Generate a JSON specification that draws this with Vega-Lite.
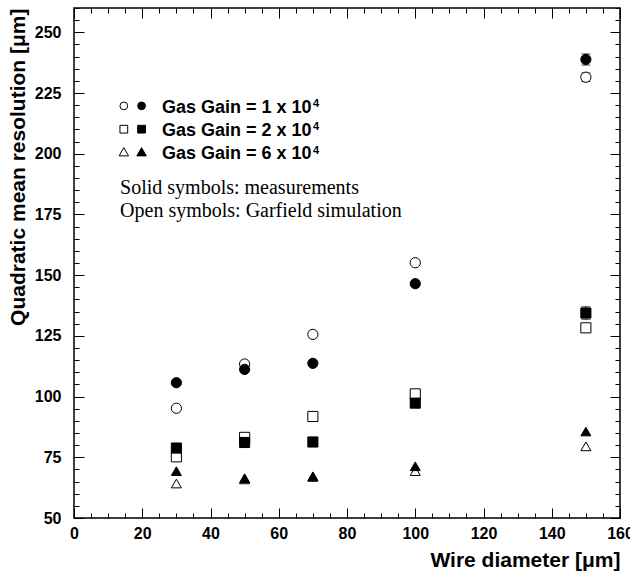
{
  "$schema": "https://vega.github.io/schema/vega-lite/v6.json",
  "width": 546,
  "height": 510,
  "autosize": {"type": "none"},
  "padding": {"left": 74, "top": 8, "right": 10, "bottom": 53},
  "background": "white",
  "config": {
    "view": {"stroke": "black", "strokeWidth": 1.5},
    "axis": {
      "domain": false, "grid": false, "tickColor": "black", "tickWidth": 1,
      "labelFont": "Liberation Sans", "labelFontWeight": "bold", "labelFontSize": 16, "labelColor": "black",
      "labelFlush": false, "labelOverlap": false, "labelBound": false,
      "titleFont": "Liberation Sans", "titleFontWeight": "bold", "titleFontSize": 21, "titleColor": "black"
    }
  },
  "datasets": {
    "one": [{}],
    "pts": [
      {"d": 30, "res": 95.2, "gain": "1e4", "type": "sim"},
      {"d": 50, "res": 113.4, "gain": "1e4", "type": "sim"},
      {"d": 70, "res": 125.6, "gain": "1e4", "type": "sim"},
      {"d": 100, "res": 155.1, "gain": "1e4", "type": "sim"},
      {"d": 150, "res": 231.5, "gain": "1e4", "type": "sim"},
      {"d": 30, "res": 75.2, "gain": "2e4", "type": "sim"},
      {"d": 50, "res": 83.2, "gain": "2e4", "type": "sim"},
      {"d": 70, "res": 91.8, "gain": "2e4", "type": "sim"},
      {"d": 100, "res": 101.1, "gain": "2e4", "type": "sim"},
      {"d": 150, "res": 128.3, "gain": "2e4", "type": "sim"},
      {"d": 30, "res": 64.2, "gain": "6e4", "type": "sim"},
      {"d": 50, "res": 65.9, "gain": "6e4", "type": "sim"},
      {"d": 70, "res": 66.9, "gain": "6e4", "type": "sim"},
      {"d": 100, "res": 69.3, "gain": "6e4", "type": "sim"},
      {"d": 150, "res": 79.5, "gain": "6e4", "type": "sim"},
      {"d": 30, "res": 105.7, "gain": "1e4", "type": "meas"},
      {"d": 50, "res": 111.2, "gain": "1e4", "type": "meas"},
      {"d": 70, "res": 113.7, "gain": "1e4", "type": "meas"},
      {"d": 100, "res": 146.5, "gain": "1e4", "type": "meas"},
      {"d": 150, "res": 238.8, "gain": "1e4", "type": "meas"},
      {"d": 30, "res": 78.8, "gain": "2e4", "type": "meas"},
      {"d": 50, "res": 81.1, "gain": "2e4", "type": "meas"},
      {"d": 70, "res": 81.3, "gain": "2e4", "type": "meas"},
      {"d": 100, "res": 97.3, "gain": "2e4", "type": "meas"},
      {"d": 150, "res": 134.4, "gain": "2e4", "type": "meas"},
      {"d": 30, "res": 69.3, "gain": "6e4", "type": "meas"},
      {"d": 50, "res": 66.4, "gain": "6e4", "type": "meas"},
      {"d": 70, "res": 67.2, "gain": "6e4", "type": "meas"},
      {"d": 100, "res": 71.3, "gain": "6e4", "type": "meas"},
      {"d": 150, "res": 85.6, "gain": "6e4", "type": "meas"}
    ],
    "err": [
      {"d": 150, "lo": 236.5, "hi": 241.1, "gain": "1e4", "type": "meas"},
      {"d": 150, "lo": 229.7, "hi": 233.3, "gain": "1e4", "type": "sim"},
      {"d": 150, "lo": 131.8, "hi": 137.0, "gain": "2e4", "type": "meas"},
      {"d": 150, "lo": 126.5, "hi": 130.1, "gain": "2e4", "type": "sim"}
    ]
  },
  "layer": [
    {
      "data": {"name": "err"},
      "mark": {"type": "rule", "color": "black", "strokeWidth": 1},
      "encoding": {
        "x": {"field": "d", "type": "quantitative", "axis": null, "scale": {"domain": [0, 160], "nice": false, "zero": false}},
        "y": {"field": "lo", "type": "quantitative", "axis": null, "scale": {"domain": [50, 260], "nice": false, "zero": false}},
        "y2": {"field": "hi"}
      }
    },
    {
      "data": {"name": "err"},
      "mark": {"type": "tick", "orient": "horizontal", "size": 9, "thickness": 1, "color": "black"},
      "encoding": {
        "x": {"field": "d", "type": "quantitative", "axis": null},
        "y": {"field": "lo", "type": "quantitative", "axis": null}
      }
    },
    {
      "data": {"name": "err"},
      "mark": {"type": "tick", "orient": "horizontal", "size": 9, "thickness": 1, "color": "black"},
      "encoding": {
        "x": {"field": "d", "type": "quantitative", "axis": null},
        "y": {"field": "hi", "type": "quantitative", "axis": null}
      }
    },
    {
      "data": {"name": "pts"},
      "mark": {"type": "point", "filled": true, "stroke": "black", "strokeWidth": 1, "opacity": 1},
      "encoding": {
        "x": {
          "field": "d", "type": "quantitative",
          "axis": {
            "orient": "bottom",
            "values": [0,5,10,15,20,25,30,35,40,45,50,55,60,65,70,75,80,85,90,95,100,105,110,115,120,125,130,135,140,145,150,155,160],
            "labelExpr": "datum.value % 20 === 0 ? datum.label : ''",
            "tickSize": {"condition": {"test": "datum.value % 20 === 0", "value": -10}, "value": -5},
            "labelPadding": 17,
            "title": "Wire diameter [μm]", "titleAnchor": "end", "titlePadding": 3
          }
        },
        "y": {
          "field": "res", "type": "quantitative",
          "axis": {
            "orient": "left",
            "values": [50,55,60,65,70,75,80,85,90,95,100,105,110,115,120,125,130,135,140,145,150,155,160,165,170,175,180,185,190,195,200,205,210,215,220,225,230,235,240,245,250,255,260],
            "labelExpr": "datum.value % 25 === 0 ? datum.label : ''",
            "tickSize": {"condition": {"test": "datum.value % 25 === 0", "value": -10}, "value": -5},
            "labelPadding": 23,
            "title": "Quadratic mean resolution [μm]", "titleAnchor": "end", "titlePadding": 6
          }
        },
        "shape": {"field": "gain", "type": "nominal", "legend": null, "scale": {"domain": ["1e4", "2e4", "6e4"], "range": ["circle", "square", "triangle-up"]}},
        "size": {"field": "gain", "type": "nominal", "legend": null, "scale": {"domain": ["1e4", "2e4", "6e4"], "range": [105, 100, 200]}},
        "fill": {"field": "type", "type": "nominal", "legend": null, "scale": {"domain": ["sim", "meas"], "range": ["white", "black"]}}
      }
    },
    {
      "data": {"name": "pts"},
      "mark": {"type": "point", "opacity": 0},
      "encoding": {
        "x": {
          "field": "d", "type": "quantitative",
          "axis": {
            "orient": "top", "labels": false, "title": null,
            "values": [0,5,10,15,20,25,30,35,40,45,50,55,60,65,70,75,80,85,90,95,100,105,110,115,120,125,130,135,140,145,150,155,160],
            "tickSize": {"condition": {"test": "datum.value % 20 === 0", "value": -10}, "value": -5}
          }
        },
        "y": {
          "field": "res", "type": "quantitative",
          "axis": {
            "orient": "right", "labels": false, "title": null,
            "values": [50,55,60,65,70,75,80,85,90,95,100,105,110,115,120,125,130,135,140,145,150,155,160,165,170,175,180,185,190,195,200,205,210,215,220,225,230,235,240,245,250,255,260],
            "tickSize": {"condition": {"test": "datum.value % 25 === 0", "value": -10}, "value": -5}
          }
        }
      }
    },
    {"data": {"name": "one"}, "mark": {"type": "point", "shape": "circle", "filled": true, "fill": "white", "stroke": "black", "strokeWidth": 1, "size": 60, "opacity": 1},
     "encoding": {"x": {"datum": 14.6, "type": "quantitative", "axis": null}, "y": {"datum": 219.7, "type": "quantitative", "axis": null}}},
    {"data": {"name": "one"}, "mark": {"type": "point", "shape": "circle", "filled": true, "fill": "black", "stroke": "black", "strokeWidth": 1, "size": 60, "opacity": 1},
     "encoding": {"x": {"datum": 19.8, "type": "quantitative", "axis": null}, "y": {"datum": 219.7, "type": "quantitative", "axis": null}}},
    {"data": {"name": "one"}, "mark": {"type": "point", "shape": "square", "filled": true, "fill": "white", "stroke": "black", "strokeWidth": 1, "size": 60, "opacity": 1},
     "encoding": {"x": {"datum": 14.6, "type": "quantitative", "axis": null}, "y": {"datum": 210.1, "type": "quantitative", "axis": null}}},
    {"data": {"name": "one"}, "mark": {"type": "point", "shape": "square", "filled": true, "fill": "black", "stroke": "black", "strokeWidth": 1, "size": 60, "opacity": 1},
     "encoding": {"x": {"datum": 19.8, "type": "quantitative", "axis": null}, "y": {"datum": 210.1, "type": "quantitative", "axis": null}}},
    {"data": {"name": "one"}, "mark": {"type": "point", "shape": "triangle-up", "filled": true, "fill": "white", "stroke": "black", "strokeWidth": 1, "size": 90, "opacity": 1},
     "encoding": {"x": {"datum": 14.6, "type": "quantitative", "axis": null}, "y": {"datum": 200.8, "type": "quantitative", "axis": null}}},
    {"data": {"name": "one"}, "mark": {"type": "point", "shape": "triangle-up", "filled": true, "fill": "black", "stroke": "black", "strokeWidth": 1, "size": 90, "opacity": 1},
     "encoding": {"x": {"datum": 19.8, "type": "quantitative", "axis": null}, "y": {"datum": 200.8, "type": "quantitative", "axis": null}}},
    {"data": {"name": "one"}, "mark": {"type": "text", "text": "Gas Gain = 1 x 10", "font": "Liberation Sans", "fontWeight": "bold", "fontSize": 18, "align": "left", "baseline": "alphabetic", "color": "black"},
     "encoding": {"x": {"datum": 25.8, "type": "quantitative", "axis": null}, "y": {"datum": 216.9, "type": "quantitative", "axis": null}}},
    {"data": {"name": "one"}, "mark": {"type": "text", "text": "4", "font": "Liberation Sans", "fontWeight": "bold", "fontSize": 11, "align": "left", "baseline": "alphabetic", "color": "black"},
     "encoding": {"x": {"datum": 70.0, "type": "quantitative", "axis": null}, "y": {"datum": 219.2, "type": "quantitative", "axis": null}}},
    {"data": {"name": "one"}, "mark": {"type": "text", "text": "Gas Gain = 2 x 10", "font": "Liberation Sans", "fontWeight": "bold", "fontSize": 18, "align": "left", "baseline": "alphabetic", "color": "black"},
     "encoding": {"x": {"datum": 25.8, "type": "quantitative", "axis": null}, "y": {"datum": 207.5, "type": "quantitative", "axis": null}}},
    {"data": {"name": "one"}, "mark": {"type": "text", "text": "4", "font": "Liberation Sans", "fontWeight": "bold", "fontSize": 11, "align": "left", "baseline": "alphabetic", "color": "black"},
     "encoding": {"x": {"datum": 70.0, "type": "quantitative", "axis": null}, "y": {"datum": 209.8, "type": "quantitative", "axis": null}}},
    {"data": {"name": "one"}, "mark": {"type": "text", "text": "Gas Gain = 6 x 10", "font": "Liberation Sans", "fontWeight": "bold", "fontSize": 18, "align": "left", "baseline": "alphabetic", "color": "black"},
     "encoding": {"x": {"datum": 25.8, "type": "quantitative", "axis": null}, "y": {"datum": 197.7, "type": "quantitative", "axis": null}}},
    {"data": {"name": "one"}, "mark": {"type": "text", "text": "4", "font": "Liberation Sans", "fontWeight": "bold", "fontSize": 11, "align": "left", "baseline": "alphabetic", "color": "black"},
     "encoding": {"x": {"datum": 70.0, "type": "quantitative", "axis": null}, "y": {"datum": 200.0, "type": "quantitative", "axis": null}}},
    {"data": {"name": "one"}, "mark": {"type": "text", "text": "Solid symbols: measurements", "font": "Liberation Serif", "fontSize": 20, "align": "left", "baseline": "alphabetic", "color": "black"},
     "encoding": {"x": {"datum": 13.5, "type": "quantitative", "axis": null}, "y": {"datum": 183.3, "type": "quantitative", "axis": null}}},
    {"data": {"name": "one"}, "mark": {"type": "text", "text": "Open symbols: Garfield simulation", "font": "Liberation Serif", "fontSize": 20, "align": "left", "baseline": "alphabetic", "color": "black"},
     "encoding": {"x": {"datum": 13.5, "type": "quantitative", "axis": null}, "y": {"datum": 174.0, "type": "quantitative", "axis": null}}}
  ],
  "resolve": {"axis": {"x": "independent", "y": "independent"}}
}
